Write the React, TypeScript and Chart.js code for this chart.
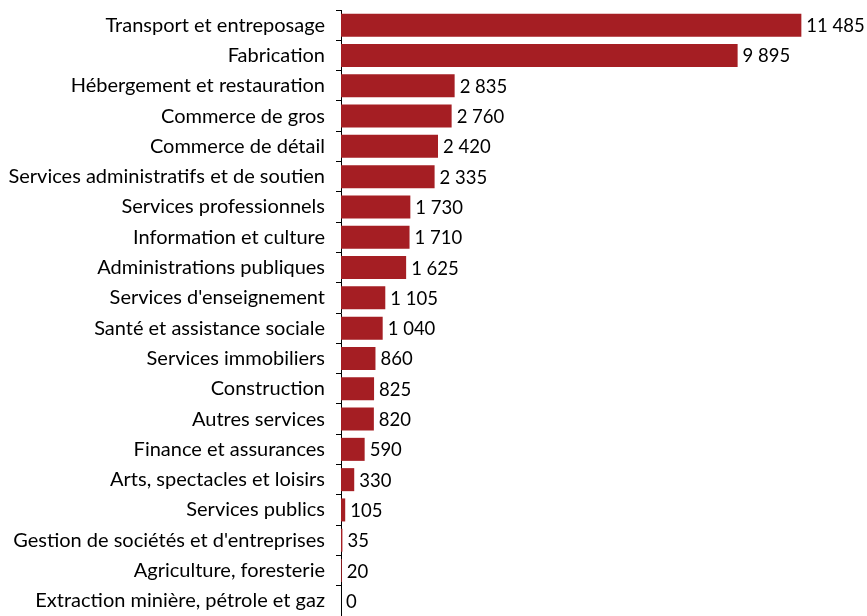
import React, { useEffect, useRef } from "react";
import { Chart, registerables } from "chart.js";

Chart.register(...registerables);

const categories = [
  "Transport et entreposage",
  "Fabrication",
  "Hébergement et restauration",
  "Commerce de gros",
  "Commerce de détail",
  "Services administratifs et de soutien",
  "Services professionnels",
  "Information et culture",
  "Administrations publiques",
  "Services d'enseignement",
  "Santé et assistance sociale",
  "Services immobiliers",
  "Construction",
  "Autres services",
  "Finance et assurances",
  "Arts, spectacles et loisirs",
  "Services publics",
  "Gestion de sociétés et d'entreprises",
  "Agriculture, foresterie",
  "Extraction minière, pétrole et gaz",
];

const values = [11485, 9895, 2835, 2760, 2420, 2335, 1730, 1710, 1625, 1105, 1040, 860, 825, 820, 590, 330, 105, 35, 20, 0];

const FONT = "Lato, 'Open Sans', sans-serif";
const SIZE = 20;
const VALUE_SIZE = 18.5;

const fmt = (v: number) => String(v).replace(/\B(?=(\d{3})+(?!\d))/g, " ");

const valueLabels = {
  id: "valueLabels",
  afterDatasetsDraw(chart: any) {
    const ctx = chart.ctx;
    const meta = chart.getDatasetMeta(0);
    ctx.save();
    ctx.font = `${VALUE_SIZE}px ${FONT}`;
    ctx.fillStyle = "#000";
    ctx.textAlign = "left";
    ctx.textBaseline = "middle";
    meta.data.forEach((bar: any, i: number) => {
      ctx.fillText(fmt(values[i]), bar.x + 5, bar.y + 1);
    });
    ctx.restore();
  },
};

export default function App() {
  const ref = useRef<HTMLCanvasElement>(null);
  useEffect(() => {
    if (!ref.current) return;
    const chart = new Chart(ref.current, {
      type: "bar",
      data: {
        labels: categories,
        datasets: [
          {
            data: values,
            backgroundColor: "#A51E23",
            borderWidth: 0,
            barPercentage: 0.76,
            categoryPercentage: 1,
          },
        ],
      },
      options: {
        indexAxis: "y",
        animation: false,
        responsive: false,
        maintainAspectRatio: false,
        layout: { padding: { top: 10, bottom: 0, left: 0, right: 45 } },
        plugins: { legend: { display: false }, tooltip: { enabled: false } },
        scales: {
          x: { display: false, min: 0, max: 12000 },
          y: {
            afterFit: (s: any) => {
              s.width = 341;
              s.paddingTop = 0;
              s.paddingBottom = 0;
            },
            grid: {
              drawOnChartArea: false,
              offset: true,
              tickLength: 5,
              color: "#000",
            },
            border: { color: "#000", width: 1 },
            ticks: {
              color: "#000",
              padding: 11,
              font: { family: FONT, size: SIZE },
              autoSkip: false,
            },
          },
        },
      },
      plugins: [valueLabels],
    });
    return () => chart.destroy();
  }, []);
  return (
    <div style={{ position: "fixed", left: 0, top: 0, width: 867, height: 616, background: "#fff" }}>
      <canvas ref={ref} width={867} height={616} />
    </div>
  );
}
